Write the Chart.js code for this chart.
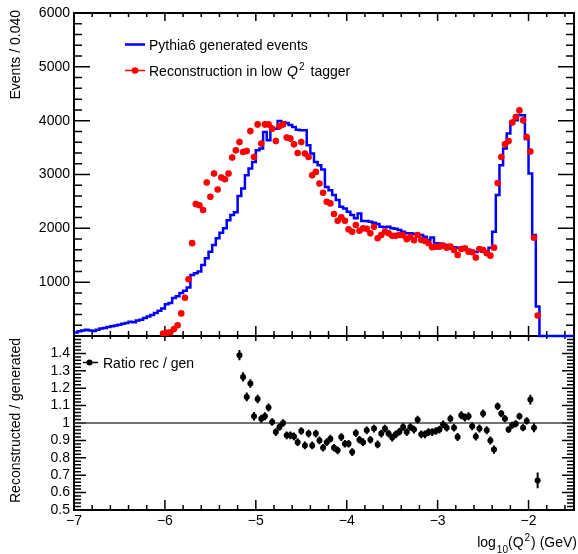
<!DOCTYPE html>
<html>
<head>
<meta charset="utf-8">
<script src="https://cdn.jsdelivr.net/npm/chart.js@4.4.0/dist/chart.umd.min.js"></script>
<style>
  html, body { margin: 0; padding: 0; background: #fff; }
  #wrap { position: relative; width: 578px; height: 554px; }
  canvas { position: absolute; left: 0; top: 0; }
</style>
</head>
<body>
<div id="wrap">
  <canvas id="ratioPad" width="578" height="554"></canvas>
  <canvas id="mainPad" width="578" height="554"></canvas>
</div>
<script>
const FONT = '"Liberation Sans", Arial, Helvetica, sans-serif';
Chart.defaults.font.family = FONT;
Chart.defaults.font.size = 14;
Chart.defaults.color = '#000';

// Binning of log10(Q^2)
const binStart = -7.0;
const binWidth = 0.04;
const xMin = -7.0;
const xMax = -1.5;

// Pythia6 generated events per bin (from binStart, one entry per bin)
const genCounts = [
  67, 90, 104, 117, 100, 95, 117, 140, 150, 167,
  180, 195, 209, 228, 240, 265, 255, 290, 302, 333,
  360, 390, 426, 470, 510, 590, 611, 704, 740, 800,
  840, 900, 1135, 1167, 1196, 1320, 1444, 1567, 1690, 1815,
  1919, 2000, 2150, 2246, 2300, 2600, 2741, 2987, 3111, 3233,
  3450, 3481, 3789, 3635, 3852, 3852, 3993, 3970, 3956, 3920,
  3881, 3833, 3822, 3822, 3543, 3389, 3233, 3172, 3093, 2770,
  2709, 2617, 2524, 2400, 2370, 2307, 2246, 2185, 2277, 2136,
  2136, 2122, 2105, 2080, 2030, 2020, 2030, 2000, 1990, 1970,
  1937, 1910, 1910, 1900, 1876, 1876, 1845, 1783, 1830, 1722,
  1720, 1700, 1690, 1660, 1650, 1640, 1630, 1610, 1600, 1580,
  1560, 1620, 1570, 1580, 1640, 1937, 2617, 3172, 3481, 3760,
  3950, 4010, 4100, 4100, 3660, 3019, 1876, 548, 0, 0,
  0, 0, 0, 0, 0, 0, 0
];

// Reconstructed events in the low Q^2 tagger, starting at bin recoFirstBin
const recoFirstBin = 24;
const recoCounts = [
  45, 58, 70, 129, 200, 420, 710, 1055, 1725, 2450,
  2430, 2340, 2852, 2585, 3019, 2722, 2944, 2913, 3019, 3315,
  3450, 3604, 3419, 3437, 3807, 3326, 3931, 3574, 3931, 3931,
  3852, 3622, 3894, 3931, 3685, 3667, 3561, 3400, 3604, 3389,
  3326, 2987, 3048, 2833, 2660, 2493, 2463, 2265, 2141, 2204,
  2141, 1981, 1937, 2061, 1956, 2000, 1990, 1907, 2030, 1815,
  1876, 1937, 1907, 1860, 1860, 1876, 1870, 1796, 1845, 1780,
  1876, 1783, 1765, 1722, 1648, 1660, 1660, 1678, 1641, 1660,
  1598, 1506, 1617, 1630, 1567, 1556, 1456, 1617, 1598, 1537,
  1493, 1641, 2840, 3326, 3560, 3620, 3965, 4067, 4191, 4006,
  3697, 3428, 1825, 380
];

// Ratio reconstructed / generated, starting at bin ratioFirstBin
const ratioFirstBin = 45;
const ratioValues = [
  1.390, 1.265, 1.150, 1.227, 1.039, 1.138, 1.025, 1.039, 1.089, 1.006,
  0.948, 0.977, 1.000, 0.929, 0.929, 0.923, 0.890, 0.954, 0.871, 0.939,
  0.871, 0.939, 0.900, 0.858, 0.890, 0.910, 0.858, 0.843, 0.919, 0.881,
  0.881, 0.833, 0.942, 0.904, 0.890, 0.958, 0.904, 0.968, 0.877, 0.939,
  0.968, 0.939, 0.916, 0.935, 0.950, 0.977, 0.948, 0.977, 0.962, 1.019,
  0.935, 0.935, 0.948, 0.948, 0.954, 0.962, 0.992, 0.973, 1.025, 0.973,
  0.919, 1.044, 1.031, 1.039, 0.981, 0.923, 0.968, 1.054, 0.958, 0.900,
  0.847, 1.096, 1.054, 1.025, 0.962, 0.987, 0.996, 1.039, 0.973, 1.012,
  1.135, 0.973, 0.670
];
const ratioErrors = [
  0.030, 0.027, 0.025, 0.025, 0.024, 0.024, 0.023, 0.023, 0.023, 0.022,
  0.022, 0.022, 0.022, 0.022, 0.022, 0.022, 0.022, 0.022, 0.022, 0.022,
  0.022, 0.022, 0.022, 0.022, 0.022, 0.022, 0.022, 0.022, 0.022, 0.022,
  0.022, 0.022, 0.022, 0.022, 0.022, 0.022, 0.022, 0.022, 0.022, 0.022,
  0.022, 0.022, 0.022, 0.022, 0.022, 0.022, 0.022, 0.022, 0.022, 0.022,
  0.022, 0.022, 0.022, 0.022, 0.022, 0.022, 0.022, 0.022, 0.022, 0.022,
  0.023, 0.023, 0.023, 0.023, 0.023, 0.023, 0.023, 0.023, 0.023, 0.023,
  0.024, 0.022, 0.021, 0.021, 0.020, 0.020, 0.020, 0.020, 0.020, 0.021,
  0.028, 0.026, 0.045
];

// Tick labels
const xTickLabels = ['−7', '−6', '−5', '−4', '−3', '−2'];
const eventTickLabels = ['1000', '2000', '3000', '4000', '5000', '6000'];
const ratioTickLabels = ['0.5', '0.6', '0.7', '0.8', '0.9', '1', '1.1', '1.2', '1.3', '1.4'];

const num = s => parseFloat(s.replace('−', '-'));
const binLeft = i => binStart + i * binWidth;
const binCenter = i => binStart + (i + 0.5) * binWidth;

const genSteps = genCounts.map((v, i) => ({ x: binLeft(i), y: v }));
genSteps.push({ x: binLeft(genCounts.length), y: 0 }, { x: xMax, y: 0 });

const recoPoints = recoCounts.map((v, j) => ({ x: binCenter(recoFirstBin + j), y: v }));
const recoErr = recoCounts.map(v => Math.sqrt(v));
const ratioPoints = ratioValues.map((v, j) => ({ x: binCenter(ratioFirstBin + j), y: v }));

// ---------- helper drawing ----------
function seg(ctx, x1, y1, x2, y2) {
  ctx.beginPath(); ctx.moveTo(x1, y1); ctx.lineTo(x2, y2); ctx.stroke();
}
function dot(ctx, x, y, r, c) {
  ctx.beginPath(); ctx.arc(x, y, r, 0, Math.PI * 2); ctx.fillStyle = c; ctx.fill();
}

// frame and inward ticks on all four sides
function frameTicks(spec) {
  return {
    id: 'frameTicks',
    beforeDatasetsDraw(chart) {
      const { ctx, chartArea: a, scales: { x, y } } = chart;
      ctx.save();
      ctx.strokeStyle = '#000';
      ctx.lineWidth = 2;
      ctx.strokeRect(a.left, a.top, a.right - a.left, a.bottom - a.top);
      ctx.lineWidth = 1.5;
      ctx.beginPath();
      const nx = Math.floor((x.max - x.min) / spec.xMinor + 1e-6);
      for (let i = 0; i <= nx; i++) {
        const v = x.min + i * spec.xMinor;
        const r = v / spec.xMajor;
        const major = Math.abs(r - Math.round(r)) < 1e-6;
        const px = x.getPixelForValue(v);
        const lt = major ? spec.xTopMajor : spec.xTopMinor;
        const lb = major ? spec.xBotMajor : spec.xBotMinor;
        ctx.moveTo(px, a.top); ctx.lineTo(px, a.top + lt);
        ctx.moveTo(px, a.bottom); ctx.lineTo(px, a.bottom - lb);
      }
      const ny = Math.floor((y.max - y.min) / spec.yMinor + 1e-6);
      for (let i = 0; i <= ny; i++) {
        const v = y.min + i * spec.yMinor;
        const r = v / spec.yMajor;
        const major = Math.abs(r - Math.round(r)) < 1e-6;
        const py = y.getPixelForValue(v);
        const l = major ? spec.yMajorLen : spec.yMinorLen;
        ctx.moveTo(a.left, py); ctx.lineTo(a.left + l, py);
        ctx.moveTo(a.right, py); ctx.lineTo(a.right - l, py);
      }
      ctx.stroke();
      ctx.restore();
    }
  };
}

// vertical (and optional horizontal) error bars under the markers
const errorBars = {
  id: 'errorBars',
  beforeDatasetDraw(chart, args) {
    const ds = chart.data.datasets[args.index];
    if (!ds.yErrors) return;
    const { ctx, scales: { x, y } } = chart;
    ctx.save();
    ctx.strokeStyle = ds.backgroundColor;
    ctx.lineWidth = ds.errorLineWidth || 1.5;
    ctx.beginPath();
    args.meta.data.forEach((el, i) => {
      const p = ds.data[i];
      const e = ds.yErrors[i];
      ctx.moveTo(el.x, y.getPixelForValue(p.y - e));
      ctx.lineTo(el.x, y.getPixelForValue(p.y + e));
      if (ds.xHalfWidth) {
        ctx.moveTo(x.getPixelForValue(p.x - ds.xHalfWidth), el.y);
        ctx.lineTo(x.getPixelForValue(p.x + ds.xHalfWidth), el.y);
      }
    });
    ctx.stroke();
    ctx.restore();
  }
};

function fixedWidth(w) {
  return s => { s.width = w; s.paddingTop = 0; s.paddingBottom = 0; };
}

// ---------- upper pad: event distributions ----------
const mainTexts = {
  id: 'mainTexts',
  afterDraw(chart) {
    const ctx = chart.ctx;
    ctx.save();
    ctx.fillStyle = '#000';
    ctx.textBaseline = 'alphabetic';
    // y title
    ctx.save();
    ctx.translate(20, 10);
    ctx.rotate(-Math.PI / 2);
    ctx.textAlign = 'right';
    ctx.font = `14px ${FONT}`;
    ctx.fillText('Events / 0.040', 0, 0);
    ctx.restore();
    // legend
    ctx.textAlign = 'left';
    ctx.strokeStyle = '#0000ff';
    ctx.lineWidth = 2.5;
    seg(ctx, 125, 44.5, 145, 44.5);
    ctx.font = `14px ${FONT}`;
    ctx.fillText('Pythia6 generated events', 149, 49.5);

    ctx.strokeStyle = '#ff0000';
    ctx.lineWidth = 1.5;
    seg(ctx, 125, 70.5, 145, 70.5);
    dot(ctx, 135, 70.5, 3.3, '#ff0000');
    ctx.fillStyle = '#000';
    let tx = 149;
    const base = 75.5;
    const t1 = 'Reconstruction in low';
    ctx.fillText(t1, tx, base);
    tx += ctx.measureText(t1).width + 5;
    ctx.font = `italic 14px ${FONT}`;
    ctx.fillText('Q', tx, base);
    tx += ctx.measureText('Q').width + 1;
    ctx.font = `10px ${FONT}`;
    ctx.fillText('2', tx, base - 6);
    tx += ctx.measureText('2').width + 6;
    ctx.font = `14px ${FONT}`;
    ctx.fillText('tagger', tx, base);
    ctx.restore();
  }
};

new Chart(document.getElementById('mainPad'), {
  type: 'scatter',
  data: {
    datasets: [
      {
        label: 'Pythia6 generated events',
        data: genSteps,
        showLine: true,
        stepped: 'before',
        borderColor: '#0000ff',
        backgroundColor: '#0000ff',
        borderWidth: 2.5,
        pointRadius: 0,
        clip: false,
        order: 2
      },
      {
        label: 'Reconstruction in low Q2 tagger',
        data: recoPoints,
        yErrors: recoErr,
        xHalfWidth: binWidth / 2,
        errorLineWidth: 1.5,
        showLine: false,
        backgroundColor: '#ff0000',
        borderColor: '#ff0000',
        borderWidth: 0,
        pointRadius: 3.3,
        order: 1
      }
    ]
  },
  options: {
    responsive: false,
    animation: false,
    events: [],
    layout: { padding: { left: 0, right: 2, top: 13, bottom: 218 } },
    plugins: { legend: { display: false }, tooltip: { enabled: false } },
    scales: {
      x: { type: 'linear', min: xMin, max: xMax, display: false },
      y: {
        type: 'linear', min: 0, max: 6000,
        afterBuildTicks: s => { s.ticks = eventTickLabels.map(t => ({ value: num(t) })); },
        afterFit: fixedWidth(74),
        ticks: {
          padding: 4,
          autoSkip: false,
          font: { size: 14 },
          callback: v => eventTickLabels.find(t => num(t) === v) || ''
        },
        grid: { display: false, drawTicks: false },
        border: { display: false }
      }
    }
  },
  plugins: [
    frameTicks({ xMinor: 0.2, xMajor: 1, xTopMajor: 8, xTopMinor: 4, xBotMajor: 10, xBotMinor: 5,
                 yMinor: 200, yMajor: 1000, yMajorLen: 16, yMinorLen: 8 }),
    errorBars, mainTexts
  ]
});

// ---------- lower pad: ratio ----------
const ratioTexts = {
  id: 'ratioTexts',
  afterDraw(chart) {
    const ctx = chart.ctx;
    ctx.save();
    ctx.fillStyle = '#000';
    ctx.textBaseline = 'alphabetic';
    // y title
    ctx.save();
    ctx.translate(20, 338);
    ctx.rotate(-Math.PI / 2);
    ctx.textAlign = 'right';
    ctx.font = `14px ${FONT}`;
    ctx.fillText('Reconstructed / generated', 0, 0);
    ctx.restore();
    // legend
    ctx.strokeStyle = '#000';
    ctx.lineWidth = 1.5;
    seg(ctx, 83, 362.5, 98, 362.5);
    dot(ctx, 89.5, 362.5, 3, '#000');
    ctx.fillStyle = '#000';
    ctx.font = `14px ${FONT}`;
    ctx.textAlign = 'left';
    ctx.fillText('Ratio rec / gen', 103, 368);
    // x title: log10(Q2) (GeV), right aligned
    const parts = [
      { t: 'log', f: `14px ${FONT}`, dy: 0, gap: 0 },
      { t: '10', f: `10px ${FONT}`, dy: 6, gap: 1 },
      { t: '(Q', f: `14px ${FONT}`, dy: 0, gap: 0 },
      { t: '2', f: `10px ${FONT}`, dy: -6, gap: 1 },
      { t: ') (GeV)', f: `14px ${FONT}`, dy: 0, gap: 1 }
    ];
    let total = 0;
    parts.forEach(p => { ctx.font = p.f; p.w = ctx.measureText(p.t).width; total += p.w + p.gap; });
    let tx = 577 - total;
    const base = 546.5;
    parts.forEach(p => {
      tx += p.gap;
      ctx.font = p.f;
      ctx.fillText(p.t, tx, base + p.dy);
      tx += p.w;
    });
    ctx.restore();
  }
};

new Chart(document.getElementById('ratioPad'), {
  type: 'scatter',
  data: {
    datasets: [
      {
        label: 'unity',
        data: [{ x: xMin, y: 1 }, { x: xMax, y: 1 }],
        showLine: true,
        borderColor: '#444',
        borderWidth: 1.5,
        pointRadius: 0,
        order: 2
      },
      {
        label: 'Ratio rec / gen',
        data: ratioPoints,
        yErrors: ratioErrors,
        errorLineWidth: 2,
        showLine: false,
        backgroundColor: '#000',
        borderColor: '#000',
        borderWidth: 0,
        pointRadius: 3,
        order: 1
      }
    ]
  },
  options: {
    responsive: false,
    animation: false,
    events: [],
    layout: { padding: { left: 0, right: 2, top: 336, bottom: 0 } },
    plugins: { legend: { display: false }, tooltip: { enabled: false } },
    scales: {
      x: {
        type: 'linear', min: xMin, max: xMax,
        afterBuildTicks: s => { s.ticks = xTickLabels.map(t => ({ value: num(t) })); },
        afterFit: s => { s.height = 44; s.paddingLeft = 0; s.paddingRight = 0; },
        ticks: {
          padding: 3,
          maxRotation: 0,
          autoSkip: false,
          font: { size: 14 },
          callback: v => xTickLabels.find(t => num(t) === v) || ''
        },
        grid: { display: false, drawTicks: false },
        border: { display: false }
      },
      y: {
        type: 'linear', min: 0.5, max: 1.5,
        afterBuildTicks: s => { s.ticks = ratioTickLabels.map(t => ({ value: num(t) })); },
        afterFit: fixedWidth(74),
        ticks: {
          padding: 4,
          autoSkip: false,
          font: { size: 14 },
          callback: v => ratioTickLabels.find(t => Math.abs(num(t) - v) < 1e-9) || ''
        },
        grid: { display: false, drawTicks: false },
        border: { display: false }
      }
    }
  },
  plugins: [
    frameTicks({ xMinor: 0.2, xMajor: 1, xTopMajor: 5, xTopMinor: 3, xBotMajor: 10, xBotMinor: 5,
                 yMinor: 0.02, yMajor: 0.1, yMajorLen: 12, yMinorLen: 7 }),
    errorBars, ratioTexts
  ]
});
</script>
</body>
</html>
